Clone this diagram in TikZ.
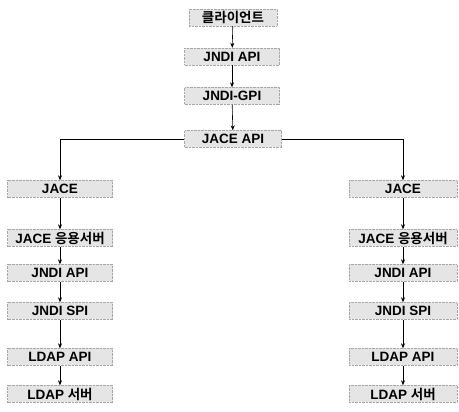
\documentclass[tikz,border=0pt]{standalone}
\usepackage{fontspec}
\setmainfont{Liberation Sans}
\newfontfamily\kr{Noto Sans CJK KR}[BoldFont={Noto Sans CJK KR Bold}]
\usetikzlibrary{arrows.meta}
\begin{document}
\begin{tikzpicture}[x=1pt,y=-1pt,
  box/.style={draw=gray!70,densely dotted,fill=gray!20,minimum height=17pt,inner sep=0pt,font=\fontsize{13.5}{14}\selectfont\bfseries},
  topbox/.style={box,minimum width=95pt},
  sidebox/.style={box,minimum width=106pt},
  arr/.style={-{Stealth[length=5pt,width=4pt]},line width=0.6pt}]
\useasboundingbox (0,0) rectangle (459,412);
\node[topbox,minimum width=88pt] (c) at (233,17.5) {{\kr\bfseries 클라이언트}};
\node[topbox] (a1) at (232,56.5) {JNDI API};
\node[topbox] (a2) at (232,96) {JNDI-GPI};
\node[topbox,minimum width=97pt] (a3) at (233,139) {JACE API};
\foreach \n/\x/\w in {l/60/105,r/403/108}{
  \node[box,minimum width=\w pt] (\n1) at (\x,189) {JACE};
  \node[box,minimum width=\w pt] (\n2) at (\x,238) {JACE {\kr\bfseries 응용서버}};
  \node[box,minimum width=\w pt] (\n3) at (\x,273) {JNDI API};
  \node[box,minimum width=\w pt] (\n4) at (\x,311) {JNDI SPI};
  \node[box,minimum width=\w pt] (\n5) at (\x,357) {LDAP API};
  \node[box,minimum width=\w pt] (\n6) at (\x,394) {LDAP {\kr\bfseries 서버}};
  \draw[arr] (\n1) -- (\n2);
  \draw[arr] (\n2) -- (\n3);
  \draw[arr] (\n3) -- (\n4);
  \draw[arr] (\n4) -- (\n5);
  \draw[arr] (\n5) -- (\n6);
}
\draw[arr] (c) -- (a1);
\draw[arr] (a1) -- (a2);
\draw[arr] (a2) -- (a3);
\draw[arr] (a3.west) -| (l1.north);
\draw[arr] (a3.east) -| (r1.north);
\end{tikzpicture}
\end{document}
